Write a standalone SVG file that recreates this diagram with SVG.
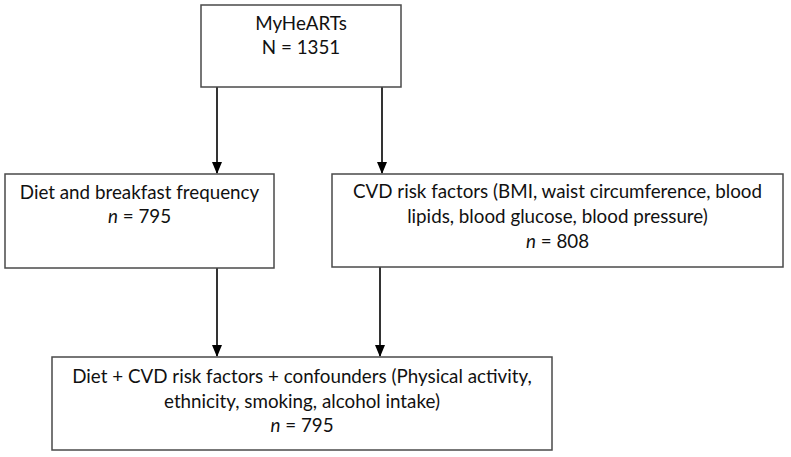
<svg xmlns="http://www.w3.org/2000/svg" width="791" height="457" viewBox="0 0 791 457">
<style>
.box{fill:#fff;stroke:#4a4a4a;stroke-width:1.5}
.t{font-family:Lato,"Open Sans","Liberation Sans",sans-serif;font-size:18.8px;fill:#111;text-anchor:middle}
.c{stroke:#000;stroke-width:1.6;fill:none}
</style>
<defs>
<marker id="ah" markerWidth="12" markerHeight="12" viewBox="0 0 12 12" refX="11" refY="6" orient="auto" markerUnits="userSpaceOnUse">
<path d="M0,1 L12,6 L0,11 Z" fill="#000"/>
</marker>
</defs>
<rect width="791" height="457" fill="#fff"/>
<g id="connectors">
<line class="c" x1="217" y1="87" x2="217" y2="173" marker-end="url(#ah)"/>
<line class="c" x1="382" y1="87" x2="382" y2="173" marker-end="url(#ah)"/>
<line class="c" x1="217" y1="268" x2="217" y2="356" marker-end="url(#ah)"/>
<line class="c" x1="380" y1="267" x2="380" y2="356" marker-end="url(#ah)"/>
</g>
<g id="node-myhearts">
<rect class="box" x="201" y="5" width="200" height="82"/>
<text class="t" x="301" y="30">MyHeARTs</text>
<text class="t" x="301" y="54">N = 1351</text>
</g>
<g id="node-diet">
<rect class="box" x="5" y="174" width="269" height="94"/>
<text class="t" x="139.5" y="199">Diet and breakfast frequency</text>
<text class="t" x="139.5" y="223"><tspan font-style="italic">n</tspan> = 795</text>
</g>
<g id="node-cvd">
<rect class="box" x="332" y="174" width="451" height="93"/>
<text class="t" x="557.5" y="198">CVD risk factors (BMI, waist circumference, blood</text>
<text class="t" x="557.5" y="223">lipids, blood glucose, blood pressure)</text>
<text class="t" x="557.5" y="248"><tspan font-style="italic">n</tspan> = 808</text>
</g>
<g id="node-combined">
<rect class="box" x="52" y="357" width="500" height="93"/>
<text class="t" x="302" y="383">Diet + CVD risk factors + confounders (Physical activity,</text>
<text class="t" x="302" y="408">ethnicity, smoking, alcohol intake)</text>
<text class="t" x="302" y="432"><tspan font-style="italic">n</tspan> = 795</text>
</g>
</svg>
